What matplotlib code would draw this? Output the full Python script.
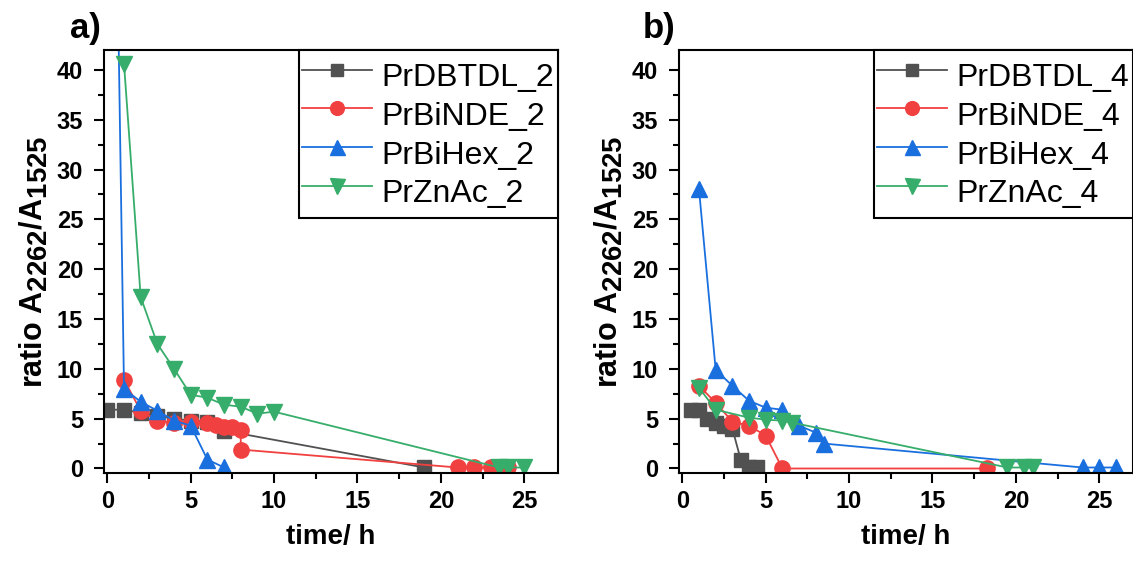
import matplotlib.pyplot as plt
import matplotlib._mathtext as mathtext_internal

plt.rcParams['font.family'] = ['Liberation Sans', 'DejaVu Sans']
plt.rcParams['mathtext.fontset'] = 'custom'
plt.rcParams['mathtext.rm'] = 'Liberation Sans:bold'
plt.rcParams['mathtext.bf'] = 'Liberation Sans:bold'
plt.rcParams['mathtext.default'] = 'bf'
# Origin draws subscripts larger than matplotlib's default 0.7
mathtext_internal.SHRINK_FACTOR = 0.9

# panel a) - series *_2
t_dbtdl_2 = [0, 1, 2, 3, 4, 5, 6, 7, 19]
r_dbtdl_2 = [5.9, 5.9, 5.6, 5.3, 5.0, 4.8, 4.7, 3.8, 0.1]
t_binde_2 = [1, 2, 3, 4, 5, 6, 6.5, 7, 7.5, 8, 8, 21, 22, 23, 24]
r_binde_2 = [8.9, 5.8, 4.8, 4.6, 4.7, 4.6, 4.4, 4.2, 4.2, 3.9, 1.9, 0.1, 0.1, 0.1, 0.1]
t_bihex_2 = [0.5, 1, 2, 3, 4, 5, 6, 7]
r_bihex_2 = [62, 8.0, 6.7, 5.8, 4.8, 4.3, 0.9, 0.1]
t_znac_2 = [1, 2, 3, 4, 5, 6, 7, 8, 9, 10, 23.5, 24, 25]
r_znac_2 = [40.6, 17.2, 12.5, 10.0, 7.4, 7.1, 6.4, 6.2, 5.5, 5.7, 0.1, 0.1, 0.1]

# panel b) - series *_4
t_dbtdl_4 = [0.5, 1, 1.5, 2, 2.5, 3, 3.5, 4, 4.5]
r_dbtdl_4 = [5.9, 5.9, 5.0, 4.6, 4.3, 4.0, 0.9, 0.15, 0.1]
t_binde_4 = [1, 2, 3, 4, 5, 6, 18.3]
r_binde_4 = [8.3, 6.6, 4.7, 4.3, 3.3, 0.0, 0.0]
t_bihex_4 = [1, 2, 3, 4, 5, 6, 7, 8, 8.5, 24, 25, 26]
r_bihex_4 = [28.0, 9.9, 8.3, 6.8, 6.1, 5.9, 4.3, 3.6, 2.5, 0.1, 0.1, 0.1]
t_znac_4 = [1, 2, 4, 5, 6, 6.6, 19.5, 20.5, 21]
r_znac_4 = [8.1, 5.9, 5.1, 4.9, 4.8, 4.6, 0.1, 0.1, 0.1]

colors = ['#515151', '#F14040', '#1A6FDF', '#37AD6B']
markers = ['s', 'o', '^', 'v']
msizes = [10, 11, 12, 12]

panels = [
    ('a)', '_2', [(t_dbtdl_2, r_dbtdl_2), (t_binde_2, r_binde_2), (t_bihex_2, r_bihex_2), (t_znac_2, r_znac_2)]),
    ('b)', '_4', [(t_dbtdl_4, r_dbtdl_4), (t_binde_4, r_binde_4), (t_bihex_4, r_bihex_4), (t_znac_4, r_znac_4)]),
]
names = ['PrDBTDL', 'PrBiNDE', 'PrBiHex', 'PrZnAc']
lefts = [0.0918, 0.5993]

fig = plt.figure(figsize=(11.33, 5.64), dpi=100)

for (tag, suffix, series), left in zip(panels, lefts):
    ax = fig.add_axes([left, 0.1605, 0.4003, 0.751])
    for (t, r), name, c, m, ms in zip(series, names, colors, markers, msizes):
        ax.plot(t, r, '-', color=c, marker=m, markersize=ms, lw=1.3,
                label=name + suffix)
    ax.set_xlim(-0.2, 27)
    ax.set_ylim(-0.5, 42)
    ax.set_xticks([0, 5, 10, 15, 20, 25])
    ax.set_xticks([2.5, 7.5, 12.5, 17.5, 22.5], minor=True)
    ax.set_yticks(range(0, 41, 5))
    ax.set_yticks([2.5 + 5 * i for i in range(8)], minor=True)
    ax.tick_params(which='major', direction='out', length=7, width=1.5,
                   labelsize=17)
    ax.tick_params(axis='y', which='major', pad=8)
    ax.tick_params(axis='x', which='major', pad=5)
    ax.tick_params(which='minor', direction='out', length=4, width=1.5)
    for lab in ax.get_xticklabels() + ax.get_yticklabels():
        lab.set_fontweight('bold')
    for sp in ax.spines.values():
        sp.set_linewidth(1.5)
    ax.set_xlabel('time/ h', fontsize=20, fontweight='bold', labelpad=8)
    ax.set_ylabel(r'ratio A$_{2262}$/A$_{1525}$', fontsize=22, fontweight='bold',
                  labelpad=5)
    ax.text(-0.008, 1.012, tag, transform=ax.transAxes, fontsize=25,
            fontweight='bold', ha='right', va='bottom')
    leg = ax.legend(loc='upper right', fontsize=23, borderaxespad=0,
                    fancybox=False, framealpha=1, edgecolor='black',
                    handlelength=2.2, handletextpad=0.3, handleheight=1.8,
                    labelspacing=-0.2, borderpad=0.1, markerscale=0.9)
    leg.get_frame().set_linewidth(1.5)

fig.savefig('out.png', dpi=100)
